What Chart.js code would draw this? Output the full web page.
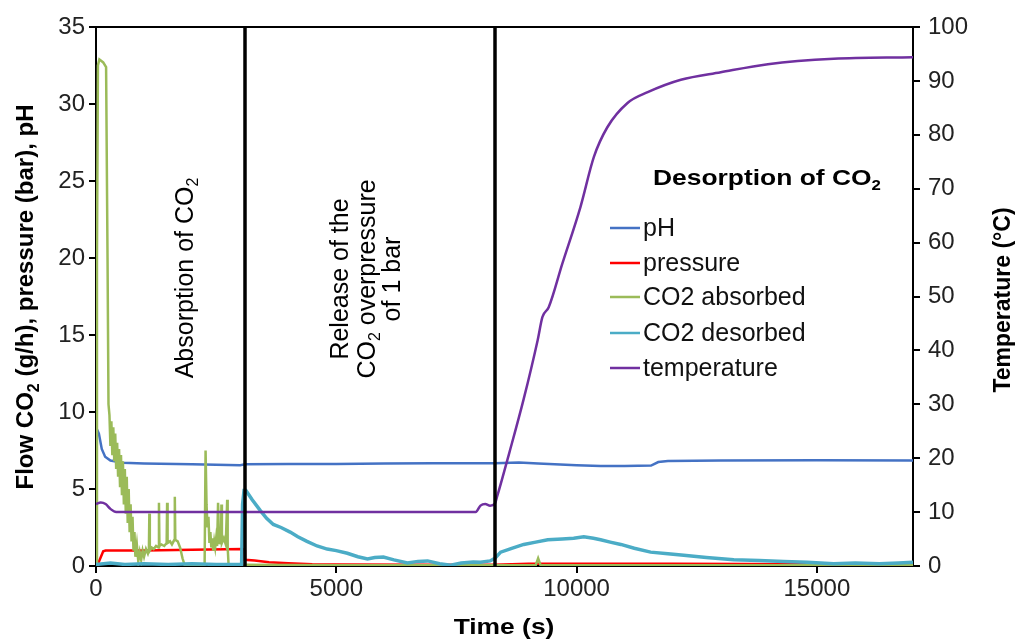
<!DOCTYPE html>
<html>
<head>
<meta charset="utf-8">
<script src="https://cdn.jsdelivr.net/npm/chart.js@4.4.1/dist/chart.umd.min.js"></script>
<style>
  html, body { margin: 0; padding: 0; background: #fff; }
  #wrap { width: 1015px; height: 639px; }
</style>
</head>
<body>
<div id="wrap"><canvas id="chart" width="1015" height="639"></canvas></div>
<script>
const FONT = "'Liberation Sans', Arial, sans-serif";

// time (s) / value pairs
const phT = [0, 60, 120, 190, 300, 560, 1000, 2000, 3000, 3100, 4000, 5000, 6000, 7000, 8300, 8800, 9200, 10000, 10500, 11000, 11550, 11700, 11900, 13000, 15000, 17000];
const phV = [9.0, 8.6, 7.6, 7.1, 6.85, 6.7, 6.65, 6.6, 6.55, 6.6, 6.62, 6.63, 6.65, 6.67, 6.68, 6.72, 6.65, 6.55, 6.5, 6.5, 6.52, 6.75, 6.82, 6.85, 6.87, 6.85];

const pressT = [0, 30, 150, 200, 1000, 2000, 3050, 3090, 3100, 3300, 3600, 4000, 4500, 5000, 7000, 8300, 9000, 12000, 15000, 17000];
const pressV = [0, 0.05, 0.95, 1.0, 1.0, 1.05, 1.1, 1.05, 0.4, 0.35, 0.25, 0.18, 0.12, 0.1, 0.08, 0.08, 0.15, 0.15, 0.12, 0.1];

const absT = [0, 20, 40, 70, 150, 210, 240, 260, 280, 300, 320, 340, 360, 380, 400, 420, 440, 460, 480, 500, 520, 540, 560, 580, 600, 620, 640, 660, 680, 700, 720, 740, 760, 780, 800, 820, 850, 880, 910, 940, 970, 1000, 1040, 1080, 1100, 1110, 1120, 1160, 1200, 1250, 1300, 1310, 1320, 1360, 1420, 1470, 1480, 1490, 1540, 1580, 1630, 1640, 1650, 1700, 1750, 1800, 1850, 2260, 2280, 2300, 2320, 2340, 2360, 2380, 2400, 2420, 2440, 2460, 2480, 2500, 2520, 2540, 2560, 2580, 2600, 2610, 2620, 2660, 2700, 2730, 2740, 2760, 3100, 3120, 5000, 7000, 9150, 9200, 9250, 12000, 17000];
const absV = [0, 20, 32.5, 32.9, 32.7, 32.4, 20, 10.5, 9.8, 7.8, 9.4, 7.2, 9.0, 6.8, 8.6, 6.3, 8.0, 5.8, 7.6, 5.2, 7.2, 4.6, 6.8, 4.0, 6.3, 3.4, 5.8, 2.8, 5.0, 2.2, 4.0, 1.6, 3.2, 1.0, 2.2, 0.6, 1.4, 0.3, 0.9, 0.4, 1.0, 0.6, 1.1, 0.8, 1.0, 3.4, 1.0, 1.2, 1.1, 1.3, 1.2, 4.1, 1.3, 1.4, 1.3, 1.5, 4.1, 1.5, 1.6, 1.4, 1.7, 4.5, 1.7, 1.6, 1.2, 0.5, 0, 0, 7.5, 4.0, 2.5, 3.2, 1.5, 2.2, 1.2, 1.8, 1.0, 1.6, 1.2, 1.8, 1.3, 4.1, 1.5, 2.0, 1.4, 4.0, 1.5, 1.8, 1.4, 4.3, 1.2, 0, 0, 0.08, 0.05, 0.05, 0.05, 0.5, 0.05, 0.05, 0.05];

const desT = [0, 300, 600, 1000, 1500, 2000, 2500, 3030, 3050, 3080, 3120, 3250, 3420, 3550, 3690, 3850, 4040, 4200, 4390, 4600, 4810, 5000, 5230, 5450, 5650, 5800, 5980, 6200, 6480, 6700, 6900, 7150, 7380, 7600, 7850, 8000, 8200, 8300, 8420, 8650, 8900, 9150, 9400, 9700, 9940, 10150, 10350, 10500, 10700, 10920, 11200, 11540, 11900, 12230, 12700, 13270, 13800, 14310, 14800, 15350, 15800, 16300, 16700, 17000];
const desV = [0.1, 0.2, 0.1, 0.15, 0.1, 0.15, 0.1, 0.1, 4.0, 4.9, 4.9, 4.3, 3.6, 3.1, 2.7, 2.5, 2.2, 1.9, 1.6, 1.3, 1.1, 1.0, 0.83, 0.6, 0.45, 0.55, 0.58, 0.4, 0.2, 0.3, 0.33, 0.15, 0.05, 0.2, 0.26, 0.25, 0.33, 0.5, 0.9, 1.15, 1.4, 1.55, 1.7, 1.75, 1.8, 1.9, 1.8, 1.7, 1.55, 1.4, 1.15, 0.9, 0.8, 0.7, 0.55, 0.4, 0.35, 0.3, 0.25, 0.15, 0.2, 0.15, 0.2, 0.25];

const tempT = [0, 100, 200, 300, 420, 7900, 8000, 8100, 8200, 8300, 8350, 8600, 8900, 9190, 9290, 9420, 9700, 10080, 10360, 10640, 11060, 11480, 12170, 13000, 13980, 15350, 17000];
const tempV = [11.5, 11.8, 11.5, 10.6, 10.0, 10.0, 11.2, 11.5, 11.2, 11.6, 13, 21, 31, 41.9, 46.2, 48, 56, 66.6, 75.9, 81.4, 85.9, 87.9, 90.2, 91.6, 93.1, 94.1, 94.4];

const xTickVals = [0, 5000, 10000, 15000];
const phaseBounds = [3100, 8300];
const seriesNames = ['pH', 'pressure', 'CO2 absorbed', 'CO2 desorbed', 'temperature'];
const seriesColors = ['#4472C4', '#FF0000', '#9BBB59', '#4BACC6', '#7030A0'];

const pairs = (ts, vs) => ts.map((t, i) => ({ x: t, y: vs[i] }));

function drawRich(c, parts, x, y, size, weight, align, sx) {
  sx = sx || 1;
  const big = `${weight} ${size}px ${FONT}`;
  const small = `${weight} ${Math.round(size * 0.65)}px ${FONT}`;
  let w = 0;
  parts.forEach(p => { c.font = p[1] ? small : big; w += c.measureText(p[0]).width; });
  c.save();
  c.translate(x, y);
  c.scale(sx, 1);
  let cx = align === 'center' ? -w / 2 : align === 'right' ? -w : 0;
  c.textAlign = 'left';
  c.textBaseline = 'alphabetic';
  parts.forEach(p => {
    c.font = p[1] ? small : big;
    c.fillText(p[0], cx, p[1] ? size * 0.22 : 0);
    cx += c.measureText(p[0]).width;
  });
  c.restore();
}

function drawRotated(c, parts, x, y, size, weight) {
  c.save();
  c.translate(x, y);
  c.rotate(-Math.PI / 2);
  drawRich(c, parts, 0, size * 0.35, size, weight, 'center');
  c.restore();
}

const decorPlugin = {
  id: 'decor',
  afterDatasetsDraw(chart) {
    const { ctx: c, chartArea: a, scales } = chart;
    c.save();
    c.strokeStyle = '#000';
    c.lineWidth = 3.5;
    phaseBounds.forEach(t => {
      const px = Math.round(scales.x.getPixelForValue(t));
      c.beginPath();
      c.moveTo(px, a.top);
      c.lineTo(px, a.bottom);
      c.stroke();
    });
    c.lineWidth = 2;
    c.beginPath();
    c.moveTo(a.left, a.top);
    c.lineTo(a.right, a.top);
    c.stroke();
    c.restore();
  },
  afterDraw(chart) {
    const c = chart.ctx;
    c.save();
    c.fillStyle = '#000';
    drawRotated(c, [['Absorption of CO', 0], ['2', 1]], 184, 278, 25, 'normal');
    drawRotated(c, [['Release of the', 0]], 339, 279, 25, 'normal');
    drawRotated(c, [['CO', 0], ['2', 1], [' overpressure', 0]], 366, 279, 25, 'normal');
    drawRotated(c, [['of 1 bar', 0]], 391, 279, 25, 'normal');
    drawRich(c, [['Desorption of CO', 0], ['2', 1]], 653, 185, 22, 'bold', 'left', 1.2);

    drawRotated(c, [['Flow CO', 0], ['2', 1], [' (g/h), pressure (bar), pH', 0]], 25, 297, 24, 'bold');
    drawRotated(c, [['Temperature (°C)', 0]], 1002, 300, 23, 'bold');
    drawRich(c, [['Time (s)', 0]], 504, 634, 22, 'bold', 'center', 1.2);

    const rows = [228, 263, 297, 333, 368];
    seriesNames.forEach((name, i) => {
      c.strokeStyle = seriesColors[i];
      c.lineWidth = 2.5;
      c.beginPath();
      c.moveTo(610, rows[i]);
      c.lineTo(640, rows[i]);
      c.stroke();
      c.fillStyle = '#111';
      c.font = `25px ${FONT}`;
      c.textAlign = 'left';
      c.textBaseline = 'middle';
      c.fillText(name, 643, rows[i] + 1);
    });
    c.restore();
  }
};

const tickFont = { size: 24, family: FONT };
const axisGrid = { drawOnChartArea: false, drawTicks: true, tickLength: 7, color: '#000', lineWidth: 2 };
const axisBorder = { display: true, color: '#000', width: 2 };

new Chart(document.getElementById('chart'), {
  type: 'line',
  data: {
    datasets: [
      { label: seriesNames[0], data: pairs(phT, phV), borderColor: seriesColors[0], borderWidth: 2.5, yAxisID: 'y', order: 5 },
      { label: seriesNames[1], data: pairs(pressT, pressV), borderColor: seriesColors[1], borderWidth: 2.5, yAxisID: 'y', order: 4 },
      { label: seriesNames[2], data: pairs(absT, absV), borderColor: seriesColors[2], borderWidth: 2.5, yAxisID: 'y', order: 3 },
      { label: seriesNames[3], data: pairs(desT, desV), borderColor: seriesColors[3], borderWidth: 3.5, yAxisID: 'y', order: 2 },
      { label: seriesNames[4], data: pairs(tempT, tempV), borderColor: seriesColors[4], borderWidth: 2.5, yAxisID: 'y2', order: 1, cubicInterpolationMode: 'monotone' }
    ]
  },
  options: {
    responsive: false,
    animation: false,
    devicePixelRatio: 1,
    layout: { padding: { top: 27, left: 0, right: 0, bottom: 0 } },
    elements: { point: { radius: 0 }, line: { tension: 0 } },
    plugins: { legend: { display: false }, tooltip: { enabled: false } },
    scales: {
      x: {
        type: 'linear', min: 0, max: 17000,
        ticks: { font: tickFont, color: '#222', padding: 2, maxRotation: 0, autoSkip: false, callback: v => String(v) },
        afterBuildTicks: s => { s.ticks = xTickVals.map(v => ({ value: v })); },
        grid: axisGrid, border: axisBorder,
        afterFit: s => { s.height = 73; }
      },
      y: {
        position: 'left', min: 0, max: 35,
        ticks: { stepSize: 5, font: tickFont, color: '#222', padding: 4 },
        grid: axisGrid, border: axisBorder,
        afterFit: s => { s.width = 96; }
      },
      y2: {
        position: 'right', min: 0, max: 100,
        ticks: { stepSize: 10, font: tickFont, color: '#222', padding: 8 },
        grid: axisGrid, border: axisBorder,
        afterFit: s => { s.width = 102; }
      }
    }
  },
  plugins: [decorPlugin]
});
</script>
</body>
</html>
